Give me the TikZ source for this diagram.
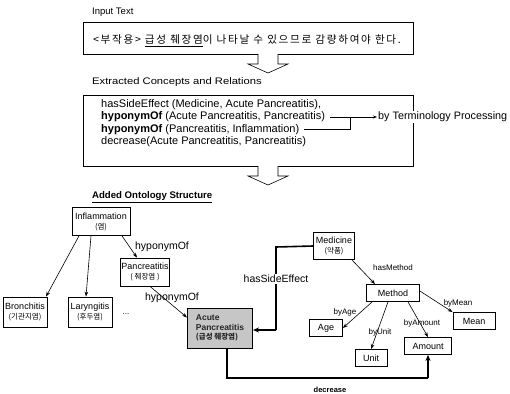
\documentclass[tikz,border=0pt]{standalone}
\usepackage{fontspec}
\usepackage{graphicx}
\setmainfont{Liberation Sans}
\newfontfamily\kr{Noto Sans CJK KR}
\newfontfamily\krwide[LetterSpace=16]{Noto Sans CJK KR}
\usetikzlibrary{arrows.meta}
\tikzset{
  box/.style={draw, thick, fill=white, align=center, inner sep=1pt, font=\fontsize{9}{10}\selectfont},
  sbox/.style={box, minimum height=17pt},
  rel/.style={-{Stealth[length=5pt,width=3.6pt]}, line width=0.6pt},
  thickrel/.style={-{Stealth[length=6pt,width=5pt]}, line width=1.6pt},
  lbl/.style={font=\fontsize{10.5}{11}\selectfont, inner sep=1pt},
  slbl/.style={font=\fontsize{8}{9}\selectfont, inner sep=1pt},
  blockarrow/.style={draw, line width=0.6pt, fill=white},
  ln/.style={anchor=west, inner sep=0pt, font=\fontsize{11}{11}\selectfont},
  head/.style={anchor=west, inner sep=0pt, font=\fontsize{9.5}{10}\selectfont},
  krs/.style={font=\kr\fontsize{7.5}{8.5}\selectfont}
}
\newcommand{\krsmall}[1]{{\kr\fontsize{7.5}{8.5}\selectfont #1}}
\begin{document}
\begin{tikzpicture}[x=1pt,y=-1pt]
\useasboundingbox (0,0) rectangle (510,393);
% ---- Input text ----
\node[head] (inlbl) at (92,12) {Input Text};
\node[draw, line width=0.7pt, minimum width=330pt, minimum height=32pt, inner sep=0pt] (inbox) at (248,38) {};
\node[inner sep=0pt, font=\krwide\fontsize{10.6}{11}\selectfont] (intext) at (247,41) {<부작용> \underline{급성 췌장염}이 나타날 수 있으므로 감량하여야 한다.};
\coordinate (a1) at (268,54);
\draw[blockarrow] (a1) ++(-10,0) -- ++(0,10) -- ++(-10,0) -- ++(20,9) -- ++(20,-9) -- ++(-10,0) -- ++(0,-10);
% ---- Extracted ----
\node[head] (exlbl) at (92,82) {\scalebox{1.18}[1]{Extracted Concepts and Relations}};
\node[draw, line width=0.7pt, minimum width=330pt, minimum height=71pt, inner sep=0pt] (exbox) at (248,130.5) {};
\node[ln] (l1) at (101,104.5) {hasSideEffect (Medicine, Acute Pancreatitis),};
\node[ln] (l2) at (101,117) {\textbf{hyponymOf} (Acute Pancreatitis, Pancreatitis)};
\node[ln] (l3) at (101,129.5) {\textbf{hyponymOf} (Pancreatitis, Inflammation)};
\node[ln] (l4) at (101,142) {decrease(Acute Pancreatitis, Pancreatitis)};
\node[anchor=west, fill=white, inner sep=1pt, font=\fontsize{10.8}{11}\selectfont] (term) at (377,117) {by Terminology Processing};
\draw[-{Stealth[length=4pt,width=3pt]}, line width=0.6pt] ([xshift=5pt]l2.east) -- (term.west);
\coordinate (br) at (350,117);
\draw[line width=0.6pt] ([xshift=5pt]l3.east) -| (br);
\coordinate (a2) at (268,166);
\draw[blockarrow] (a2) ++(-10,0) -- ++(0,10) -- ++(-10,0) -- ++(20,9) -- ++(20,-9) -- ++(-10,0) -- ++(0,-10);
\node[anchor=west, inner sep=0pt, font=\bfseries\fontsize{9.6}{10}\selectfont] (addlbl) at (92,197) {\underline{Added Ontology Structure}};
% ---- Ontology ----
\node[box, minimum width=58pt, minimum height=28pt] (infl) at (101,221.5) {Inflammation\\\krsmall{(염)}};
\node[box, minimum width=44pt, minimum height=28pt] (panc) at (145,272) {Pancreatitis\\\krsmall{( 췌장염 )}};
\node[box, minimum width=44pt, minimum height=30pt] (bron) at (25,312) {Bronchitis\\\krsmall{(기관지염)}};
\node[box, minimum width=44pt, minimum height=30pt] (lary) at (90,312) {Laryngitis\\\krsmall{(후두염)}};
\node[inner sep=0pt, font=\fontsize{8}{9}\selectfont] (dots) at (126,314) {...};
\node[draw, line width=1pt, fill=gray!45, align=left, minimum width=65pt, minimum height=40pt, inner sep=2pt, font=\bfseries\fontsize{8.5}{9.5}\selectfont, text=black!85] (acute) at (220,328) {Acute\\Pancreatitis\\\krsmall{(급성 췌장염)}};
\node[box, minimum width=41pt, minimum height=27pt] (med) at (334,246) {Medicine\\\krsmall{(약품)}};
\node[sbox, minimum width=53pt] (meth) at (393,293) {Method};
\node[sbox, minimum width=33pt] (age) at (326,328) {Age};
\node[sbox, minimum width=32pt] (unit) at (371,358) {Unit};
\node[sbox, minimum width=47pt] (amt) at (428,346) {Amount};
\node[sbox, minimum width=42pt] (mean) at (474,321) {Mean};
% hyponym arrows
\draw[rel] ([xshift=-22pt]infl.south) -- ([xshift=21pt]bron.north);
\draw[rel] ([xshift=-10pt]infl.south) -- ([xshift=-4pt]lary.north);
\draw[rel] ([xshift=21pt]infl.south) -- ([xshift=-8pt]panc.north);
\draw[rel] ([xshift=5pt]panc.south) -- ([yshift=-10pt]acute.north west);
\node[lbl] (h1) at (162,247) {hyponymOf};
\node[lbl] (h2) at (172,298) {hyponymOf};
% hasSideEffect
\coordinate (se1) at (276,247);
\coordinate (se2) at (276,330);
\draw[line width=1.6pt] (med.west) -- (se1) -- (se2);
\draw[thickrel] (se2) -- (acute.east |- se2);
\node[lbl, fill=white] (hse) at (276,279) {hasSideEffect};
% decrease
\coordinate (d1) at (227,378);
\coordinate (d2) at (428,378);
\draw[line width=1.6pt] (acute.south -| d1) -- (d1) -- (d2);
\draw[thickrel] (d2) -- (amt.south);
\node[slbl, font=\bfseries\fontsize{7.5}{8}\selectfont] (dec) at (330,390) {decrease};
% method
\draw[rel] ([xshift=-3pt]med.south east) -- ([xshift=-18pt]meth.north);
\node[slbl] (hm) at (393,268) {hasMethod};
\draw[rel] ([xshift=6pt]meth.south west) -- (age.east);
\node[slbl] (bage) at (345,312) {byAge};
\draw[rel] ([xshift=-5pt]meth.south) -- (unit.north);
\node[slbl] (bunit) at (380,332) {byUnit};
\draw[rel] ([xshift=15pt]meth.south) -- (amt.north);
\node[slbl] (bamt) at (422,323) {byAmount};
\draw[rel] ([yshift=2pt]meth.east) -- (mean.north west);
\node[slbl] (bmean) at (458,303) {byMean};
\end{tikzpicture}
\end{document}
